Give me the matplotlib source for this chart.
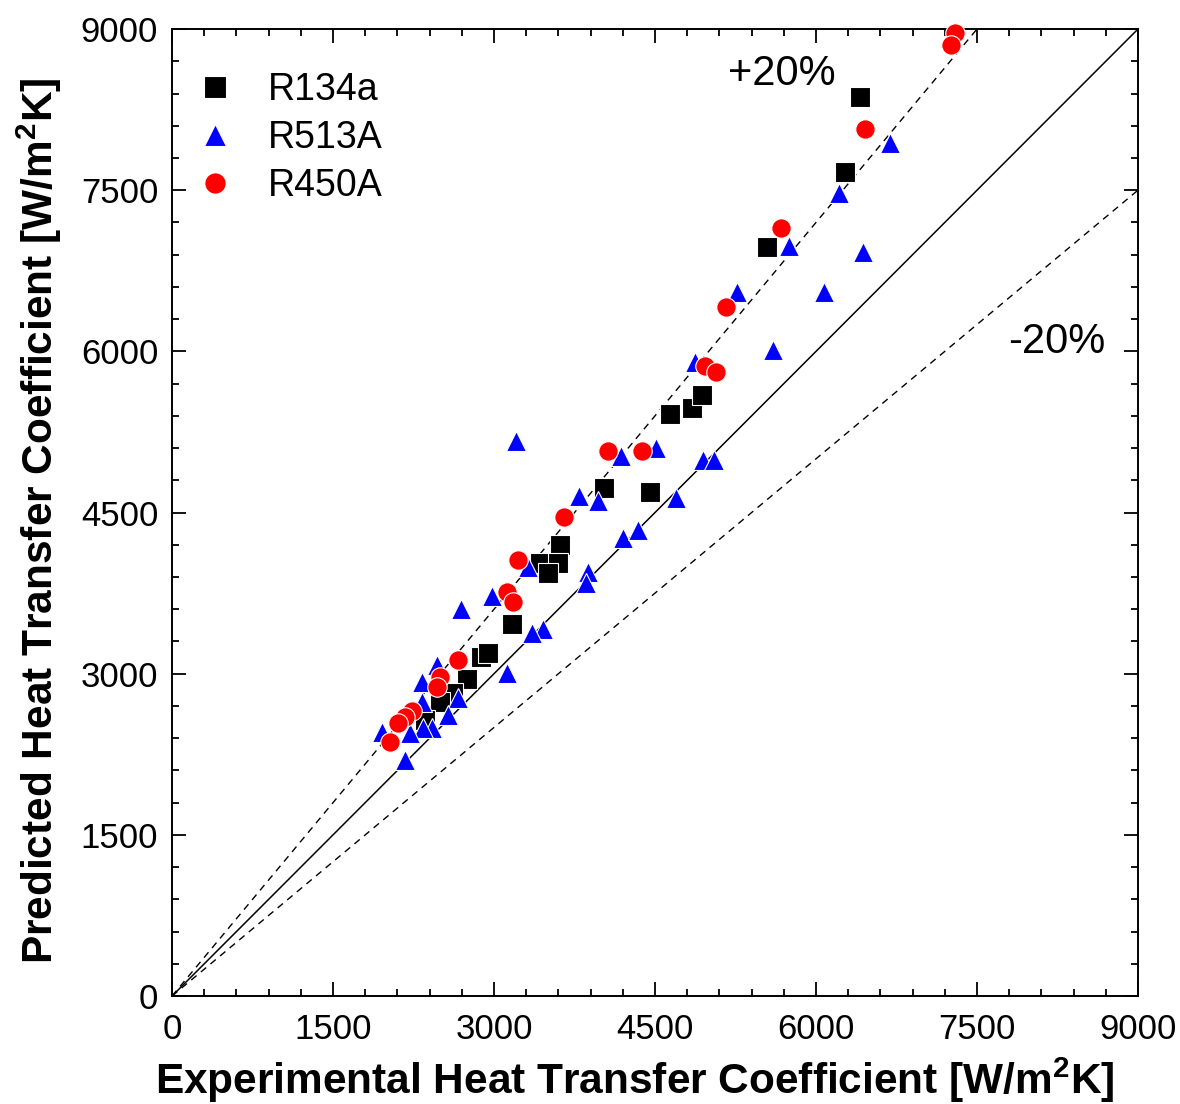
import numpy as np
import matplotlib
matplotlib.use("Agg")
import matplotlib.pyplot as plt
from matplotlib.ticker import MultipleLocator

plt.rcParams['font.family'] = ['Liberation Sans', 'DejaVu Sans']
plt.rcParams['mathtext.fontset'] = 'custom'
plt.rcParams['mathtext.rm'] = 'Liberation Sans'
plt.rcParams['mathtext.bf'] = 'Liberation Sans:bold'

# data
r134a_x = [6410, 6270, 5540, 4640, 4840, 4935, 4025, 4455, 3615, 3430, 3596, 3503,
           3165, 2880, 2944, 2749, 2618, 2497, 2357]
r134a_y = [8367, 7669, 6975, 5417, 5473, 5590, 4728, 4691, 4195, 4030, 4030, 3937,
           3466, 3160, 3192, 2950, 2820, 2736, 2569]

r513a_x = [6690, 6214, 6438, 5749, 5264, 6075, 5599, 4873, 4509, 4183, 3205, 4947,
           5050, 3792, 3969, 4696, 4202, 4342, 3320, 3876, 3860, 3460, 3354, 2688,
           2981, 3121, 2469, 2329, 2665, 2572, 2422, 2339, 2217, 1957, 2171, 2330]
r513a_y = [7939, 7473, 6924, 6980, 6552, 6552, 6012, 5901, 5100, 5026, 5165, 4989,
           4989, 4654, 4607, 4635, 4267, 4342, 3990, 3946, 3840, 3420, 3378, 3606,
           3727, 3003, 3081, 2922, 2773, 2615, 2494, 2494, 2448, 2457, 2196, 2740]

r450a_x = [7295, 7258, 6457, 5674, 5162, 4966, 5068, 4062, 4379, 3650, 3224, 3125,
           3175, 2665, 2497, 2469, 2236, 2171, 2106, 2035]
r450a_y = [8963, 8851, 8069, 7148, 6413, 5863, 5807, 5072, 5072, 4460, 4058, 3762,
           3665, 3132, 2969, 2876, 2657, 2597, 2541, 2360]

lim = 9000
band = 1.2

fig = plt.figure(figsize=(11.8, 11.04), dpi=100)
ax = fig.add_axes([0.1458, 0.0978, 0.8186, 0.8759])

# reference lines
xx = np.array([0, lim])
ax.plot(xx, xx, color='black', lw=1.1, zorder=1)
ax.plot(xx, xx * band, color='black', lw=1.0, ls=(0, (5, 4)), zorder=1)
ax.plot(xx, xx / band, color='black', lw=1.0, ls=(0, (5, 4)), zorder=1)

ms = 14
ax.plot(r134a_x, r134a_y, 's', color='black', mec='white', mew=0.8, ms=ms,
        label='R134a', zorder=3, clip_on=False)
ax.plot(r513a_x, r513a_y, '^', color='#0000ff', mec='white', mew=0.8, ms=ms + 1,
        label='R513A', zorder=4, clip_on=False)
ax.plot(r450a_x, r450a_y, 'o', color='#ff0000', mec='white', mew=0.8, ms=ms,
        label='R450A', zorder=5, clip_on=False)

ax.text(5683, 8580, '+20%', fontsize=30, ha='center', va='center')
ax.text(8245, 6087, '-20%', fontsize=30, ha='center', va='center')

ax.set_xlim(0, lim)
ax.set_ylim(0, lim)
ax.xaxis.set_major_locator(MultipleLocator(1500))
ax.yaxis.set_major_locator(MultipleLocator(1500))
ax.xaxis.set_minor_locator(MultipleLocator(300))
ax.yaxis.set_minor_locator(MultipleLocator(300))
ax.tick_params(which='both', direction='in', top=True, right=True, width=1.3,
               labelsize=25)
ax.tick_params(which='major', length=10)
ax.tick_params(axis='x', which='major', pad=12)
ax.tick_params(axis='y', which='major', pad=10)
ax.tick_params(which='minor', length=5)
for sp in ax.spines.values():
    sp.set_linewidth(1.4)

ax.set_xlabel(r'Experimental Heat Transfer Coefficient [W/m$^\mathbf{2}$K]',
              fontsize=30.5, fontweight='bold')
ax.set_ylabel(r'Predicted Heat Transfer Coefficient [W/m$^\mathbf{2}$K]',
              fontsize=30.5, fontweight='bold')
ax.xaxis.set_label_coords(0.479, -0.062)
ax.yaxis.set_label_coords(-0.112, 0.492)

leg = ax.legend(loc='upper left', frameon=False, fontsize=27, handletextpad=0.8,
                borderaxespad=0.3, labelspacing=0.33, handlelength=1.2,
                markerscale=1.1, bbox_to_anchor=(-0.006, 0.983))

fig.savefig('out.png', dpi=100)
